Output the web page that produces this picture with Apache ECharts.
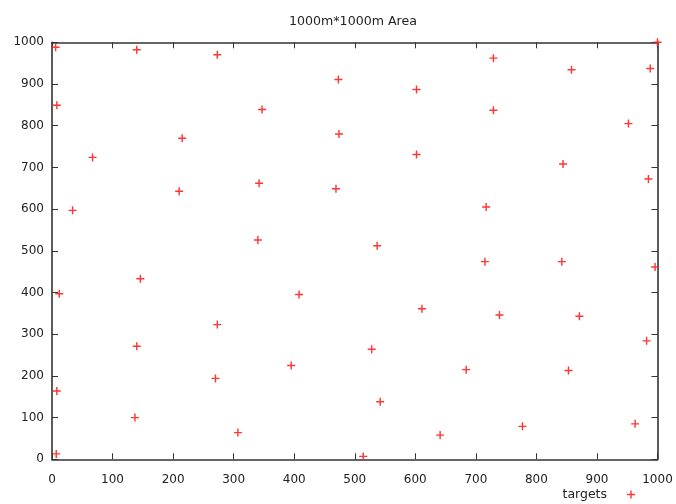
<!DOCTYPE html>
<html>
<head>
<meta charset="utf-8">
<script src="https://cdn.jsdelivr.net/npm/echarts@6/dist/echarts.min.js"></script>
<style>html,body{margin:0;padding:0;background:#fff;}#c{width:676px;height:504px;}</style>
</head>
<body>
<div id="c"></div>
<script>
var titleText = '1000m*1000m Area';
var seriesName = 'targets';
var xs = [6,140,273,473,729,858,988,1000,8,347,602,729,952,215,474,67,602,844,985,210,342,469,34,717,340,537,
          146,12,408,715,842,996,273,611,739,871,140,528,982,395,270,684,853,8,542,137,307,777,963,641,7,514];
var ys = [988,982,970,911,962,934,937,1000,849,839,887,837,805,770,780,724,731,708,672,643,662,649,597,605,526,512,
          433,397,395,474,474,461,323,361,346,343,271,264,284,225,194,215,213,164,138,100,64,79,85,58,13,7];
var xTicks = [0,100,200,300,400,500,600,700,800,900,1000];
var yTicks = [0,100,200,300,400,500,600,700,800,900,1000];

var points = xs.map(function (x, i) { return [x, ys[i]]; });
var plus = 'path://M4.1,0h1.8v4.1h4.1v1.8h-4.1v4.1h-1.8v-4.1h-4.1v-1.8h4.1z';
var font = 'DejaVu Sans';
var axisColor = '#333';

function axisCommon(ticks, showLabel) {
  return {
    type: 'value', min: ticks[0], max: ticks[ticks.length - 1], interval: ticks[1] - ticks[0],
    axisLine: { show: true, onZero: false, lineStyle: { color: axisColor, width: 1.6 } },
    axisTick: { show: true, inside: true, length: 6, lineStyle: { color: axisColor, width: 1 } },
    axisLabel: { show: showLabel, color: '#222', fontFamily: font, fontSize: 12,
                 formatter: function (v) { return String(v); } },
    splitLine: { show: false }
  };
}
var xBottom = axisCommon(xTicks, true); xBottom.position = 'bottom'; xBottom.axisLabel.margin = 15;
var xTop = axisCommon(xTicks, false); xTop.position = 'top';
var yLeft = axisCommon(yTicks, true); yLeft.position = 'left'; yLeft.axisLabel.margin = 8;
var yRight = axisCommon(yTicks, false); yRight.position = 'right';

var chart = echarts.init(document.getElementById('c'), null, { renderer: 'canvas' });
chart.setOption({
  animation: false,
  backgroundColor: '#fff',
  title: {
    text: titleText, left: 284, top: 10,
    textStyle: { fontFamily: font, fontSize: 12.6, fontWeight: 'normal', color: '#222' }
  },
  legend: {
    data: [{ name: seriesName, icon: plus }],
    right: 36, top: 483, align: 'right', itemWidth: 8, itemHeight: 8,
    textStyle: { fontFamily: font, fontSize: 12.5, color: '#222', padding: [0, 15, 0, 0] }
  },
  grid: { left: 52, right: 18.5, top: 42.3, bottom: 44.7, containLabel: false },
  xAxis: [xBottom, xTop],
  yAxis: [yLeft, yRight],
  series: [{
    name: seriesName, type: 'scatter', xAxisIndex: 0, yAxisIndex: 0,
    symbol: plus, symbolSize: 8, data: points,
    itemStyle: { color: '#ff2020', opacity: 0.9 },
    emphasis: { disabled: true }
  }]
});
</script>
</body>
</html>
